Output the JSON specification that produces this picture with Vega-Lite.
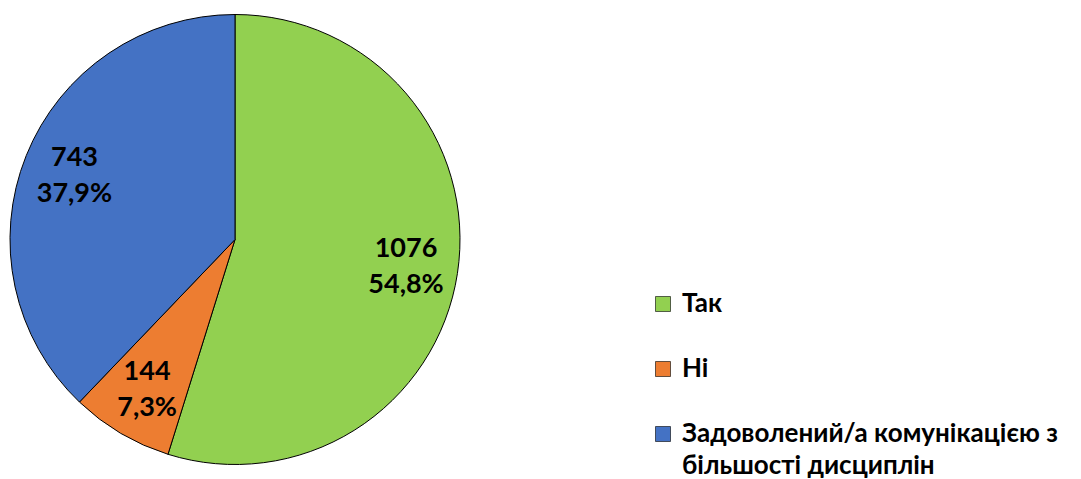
{
  "$schema": "https://vega.github.io/schema/vega-lite/v6.json",
  "width": 470,
  "height": 479,
  "padding": 0,
  "autosize": {"type": "pad"},
  "background": "white",
  "view": {"stroke": null},
  "data": {"values": [
    {"cat": "Так", "n": 1076, "label": "1076\n54,8%", "ord": 1},
    {"cat": "Ні", "n": 144, "label": "144\n7,3%", "ord": 2},
    {"cat": "Задоволений/а комунікацією з більшості дисциплін", "n": 743, "label": "743\n37,9%", "ord": 3}
  ]},
  "encoding": {
    "theta": {"field": "n", "type": "quantitative", "stack": true},
    "order": {"field": "ord", "type": "quantitative"}
  },
  "layer": [
    {
      "mark": {"type": "arc", "outerRadius": 225, "stroke": "black", "strokeWidth": 1},
      "encoding": {
        "color": {
          "field": "cat", "type": "nominal",
          "scale": {"domain": ["Так", "Ні", "Задоволений/а комунікацією з більшості дисциплін"], "range": ["#92D050", "#ED7D31", "#4472C4"]},
          "legend": {
            "title": null,
            "orient": "none",
            "legendX": 650,
            "legendY": 291,
            "symbolType": "square",
            "symbolSize": 225,
            "symbolStrokeColor": "black",
            "symbolStrokeWidth": 0.6,
            "symbolOpacity": 1,
            "labelFont": "Lato",
            "labelFontWeight": "bold",
            "labelFontSize": 26,
            "labelColor": "black",
            "labelOffset": 6,
            "labelLimit": 500,
            "rowPadding": 39,
            "labelExpr": "datum.label == 'Задоволений/а комунікацією з більшості дисциплін' ? ['Задоволений/а комунікацією з', 'більшості дисциплін'] : datum.label",
            "encode": {"labels": {"update": {"lineHeight": {"value": 32}}}}
          }
        }
      }
    },
    {
      "mark": {"type": "text", "radius": 173, "dy": -17, "font": "Lato", "fontWeight": "bold", "fontSize": 27, "lineBreak": "\n", "lineHeight": 36, "fill": "black"},
      "encoding": {"text": {"field": "label"}}
    }
  ]
}
